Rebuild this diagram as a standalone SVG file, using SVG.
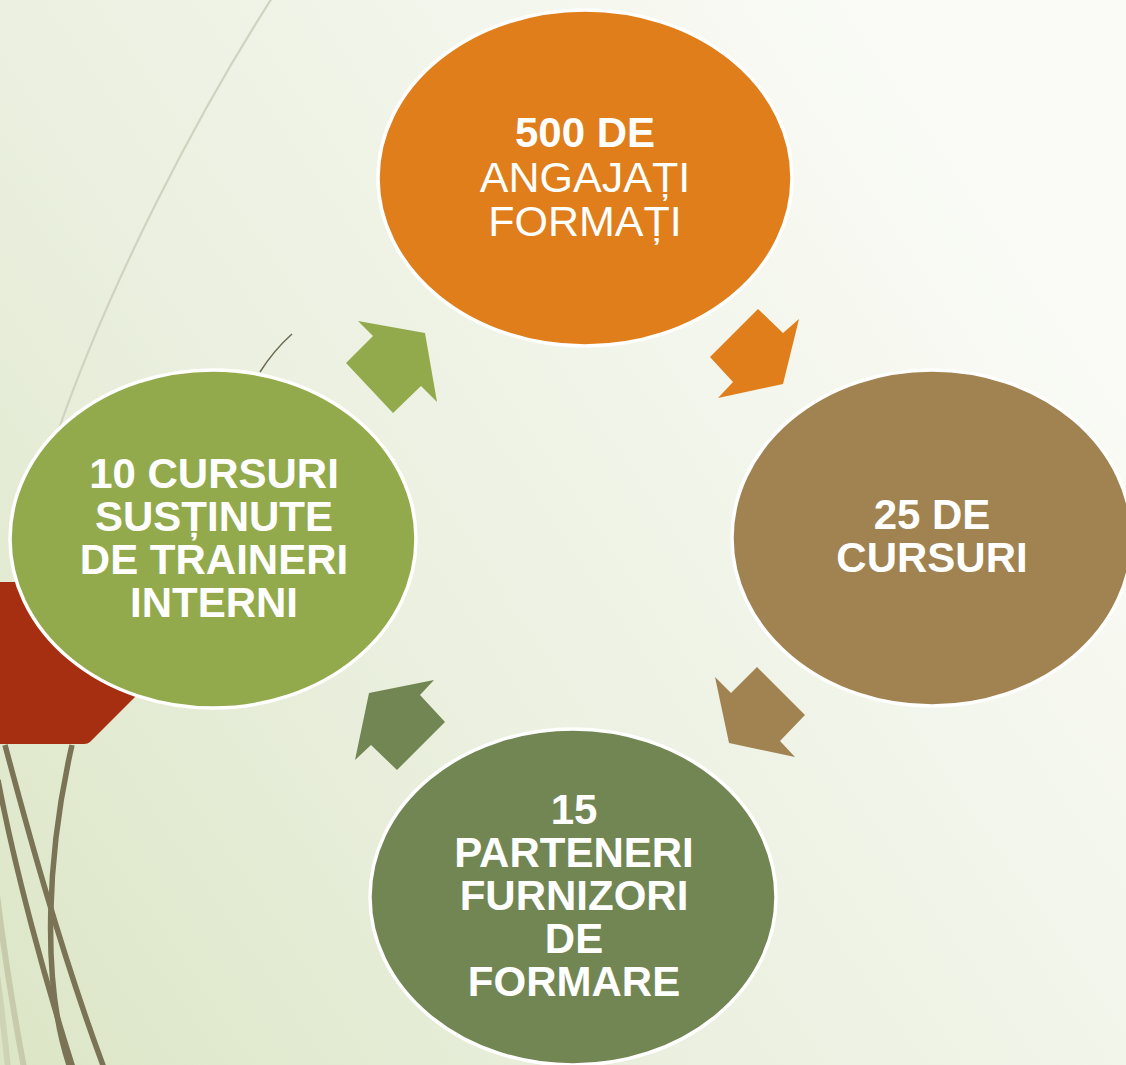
<svg xmlns="http://www.w3.org/2000/svg" width="1126" height="1065" viewBox="0 0 1126 1065">
<defs>
<linearGradient id="bg" x1="0" y1="1" x2="1" y2="0.35">
<stop offset="0" stop-color="#DCE6C6"/>
<stop offset="0.45" stop-color="#EBF0E0"/>
<stop offset="1" stop-color="#FAFBF6"/>
</linearGradient>
<style>
.node{stroke:#FFFFFF;stroke-width:3.5}
.t{font-family:"Liberation Sans",Arial,sans-serif;font-size:42px;fill:#FFFFFF;text-anchor:middle}
.r{font-size:43px}
.b{font-weight:bold}
.dark{fill:none;stroke:#7A7356;stroke-width:5.5}
.light{fill:none;stroke:#C7CBAC;stroke-width:6}
</style>
</defs>
<rect width="1126" height="1065" fill="url(#bg)"/>
<g id="background-lines">
<path d="M272,-2 C200,110 110,280 55,440" fill="none" stroke="#D0D3BF" stroke-width="2.2"/>
<path d="M260,372 Q274,350 292,334" fill="none" stroke="#6E6A52" stroke-width="1.5"/>
<path class="light" d="M-3,895 C5,960 15,1020 24,1068"/>
<path class="light" d="M-3,975 C2,1010 5,1040 8,1068" stroke-width="4" opacity="0.7"/>
<path class="dark" d="M5,745 C25,820 60,950 104,1068"/>
<path class="dark" d="M72,745 C48,850 40,980 70,1068"/>
<path class="dark" d="M-2,780 C15,870 45,980 73,1068"/>
</g>
<g id="red-shape">
<path d="M0,582 H150 V682 L90,742 Q88,744 84,744 H0 Z" fill="#A52F10"/>
</g>
<g id="node-top">
<ellipse class="node" cx="585" cy="178" rx="207" ry="168" fill="#DF7E1A"/>
<text class="t"><tspan class="b" x="585" y="147">500 DE</tspan><tspan class="r" x="585" y="192">ANGAJAȚI</tspan><tspan class="r" x="585" y="236">FORMAȚI</tspan></text>
</g>
<g id="node-right">
<ellipse class="node" cx="932" cy="538" rx="200" ry="168" fill="#A08350"/>
<text class="t b"><tspan x="932" y="529">25 DE</tspan><tspan x="932" y="572">CURSURI</tspan></text>
</g>
<g id="node-bottom">
<ellipse class="node" cx="573" cy="897" rx="203" ry="168" fill="#728653"/>
<text class="t b"><tspan x="574" y="824">15</tspan><tspan x="574" y="867">PARTENERI</tspan><tspan x="574" y="910">FURNIZORI</tspan><tspan x="574" y="953">DE</tspan><tspan x="574" y="996">FORMARE</tspan></text>
</g>
<g id="node-left">
<ellipse class="node" cx="213" cy="539" rx="203" ry="169" fill="#93AA4C"/>
<text class="t b"><tspan x="214" y="488">10 CURSURI</tspan><tspan x="214" y="531">SUSȚINUTE</tspan><tspan x="214" y="574">DE TRAINERI</tspan><tspan x="214" y="617">INTERNI</tspan></text>
</g>
<g id="connectors">
<polygon points="758,309 783,333 799,319 783,384 718,398 733,382 710,357" fill="#DF7E1A"/>
<polygon points="757,667 805,715 780,741 795,757 729,743 715,677 731,693" fill="#A08350"/>
<polygon points="369,693 434,680 420,695 445,722 397,770 371,745 355,760" fill="#728653"/>
<polygon points="358,321 425,333 437,402 421,386 393,413 346,363 373,336" fill="#93AA4C"/>
</g>
</svg>
